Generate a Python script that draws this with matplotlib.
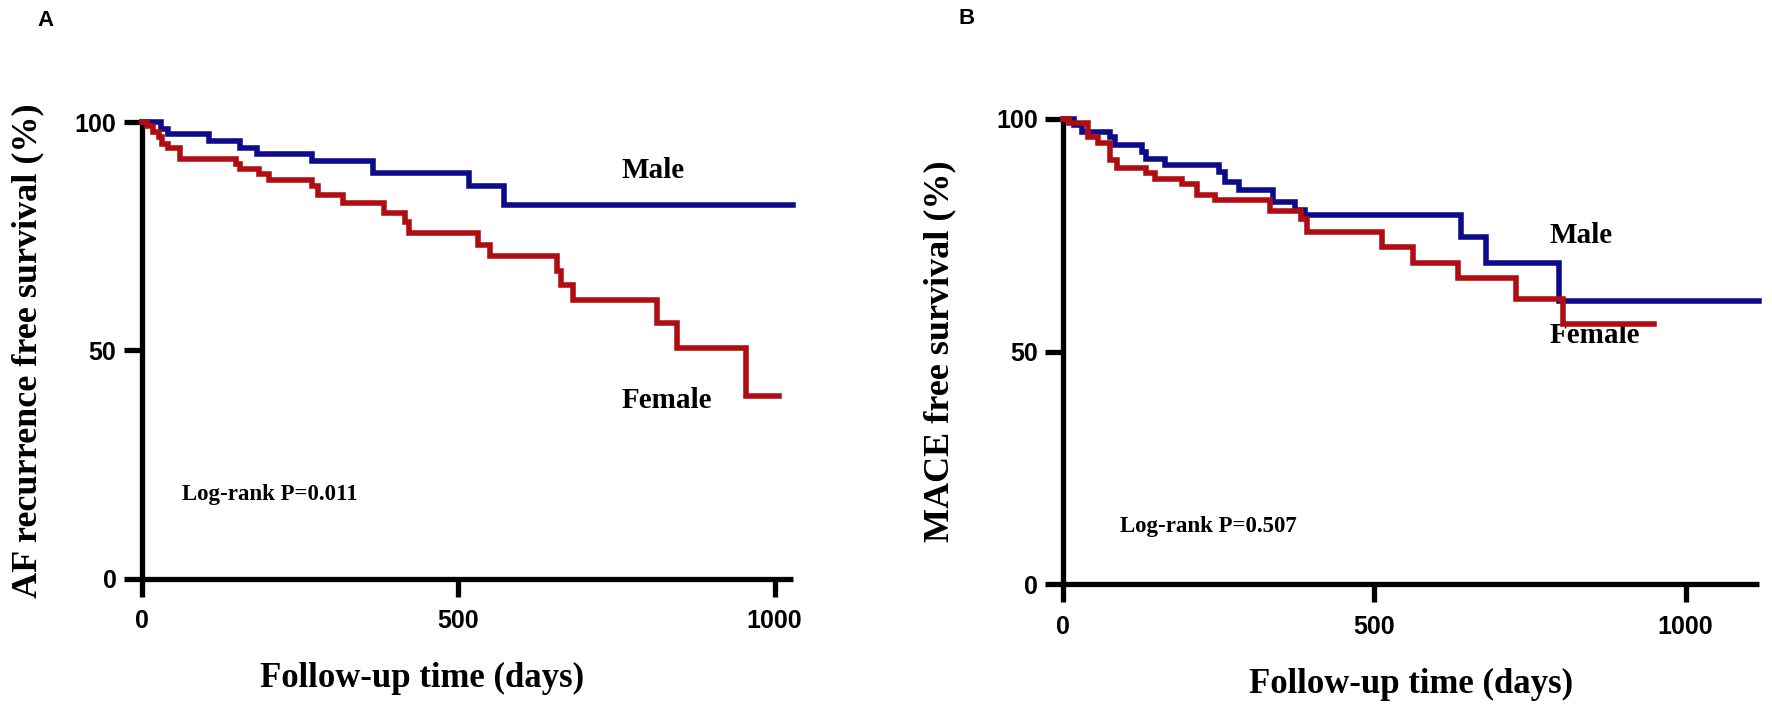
import numpy as np
import matplotlib
matplotlib.use("Agg")
import matplotlib.pyplot as plt

# ---- data (days, % event free) ----
a_xmax = 1030
a_male_days = [0, 31, 42, 106, 155, 182, 270, 365, 517, 572, 1030]
a_male_surv = [100, 98.5, 97.4, 95.9, 94.4, 93.0, 91.5, 88.9, 85.9, 81.9, 81.9]

a_female_days = [0, 8, 18, 27, 33, 42, 61, 149, 155, 186, 201, 270, 279, 319,
                 383, 417, 423, 532, 550, 657, 663, 681, 815, 846, 955, 1007]
a_female_surv = [100, 99.2, 97.8, 96.7, 95.2, 94.4, 91.9, 90.7, 89.6, 88.5, 87.4,
                 85.9, 84.1, 82.2, 80.0, 78.1, 75.6, 73.0, 70.7, 67.4, 64.4, 61.1,
                 55.9, 50.4, 40.0, 40.0]

b_xmax = 1118
b_male_days = [0, 17, 30, 76, 83, 127, 134, 164, 251, 261, 282, 338, 372, 389,
               640, 680, 797, 1118]
b_male_surv = [100, 98.8, 97.3, 96.2, 94.4, 93.0, 91.5, 90.1, 88.7, 86.5, 84.7,
               82.2, 80.5, 79.3, 74.6, 69.1, 60.8, 60.8]

b_female_days = [0, 10, 40, 57, 76, 87, 134, 148, 191, 215, 244, 332, 382, 392,
                 513, 563, 634, 727, 803, 950]
b_female_surv = [100, 99.1, 96.2, 94.8, 91.2, 89.4, 88.3, 87.2, 86.1, 83.6, 82.5,
                 80.3, 78.5, 75.6, 72.4, 69.1, 65.9, 61.2, 56.0, 56.0]

x_ticks = [0, 500, 1000]
y_ticks = [0, 50, 100]

BLUE = "#0c0c8a"
RED = "#b00d12"
SERIF = ["Liberation Serif", "DejaVu Serif"]
SANS = ["Liberation Sans", "DejaVu Sans"]

W, H = 1772, 711
fig = plt.figure(figsize=(W / 100, H / 100), dpi=100)


def panel(rect, xmax, male, female, ylabel, logrank, male_xy, female_xy, lr_xy,
          xlab_x=0.5, ylab_pad=18):
    l, b, r, t = rect
    ax = fig.add_axes([l / W, 1 - b / H, (r - l) / W, (b - t) / H])
    ax.step(male[0], male[1], where="post", color=BLUE, lw=4,
            solid_joinstyle="miter", clip_on=False, zorder=3)
    ax.step(female[0], female[1], where="post", color=RED, lw=4,
            solid_joinstyle="miter", clip_on=False, zorder=4)
    ax.set_xlim(0, xmax)
    ax.set_ylim(0, 100)
    for s in ["top", "right"]:
        ax.spines[s].set_visible(False)
    for s in ["left", "bottom"]:
        ax.spines[s].set_linewidth(3.8)
        ax.spines[s].set_capstyle("butt")
    ax.set_xticks(x_ticks)
    ax.set_yticks(y_ticks)
    ax.tick_params(length=13, width=3.8, direction="out")
    ax.tick_params(axis="x", pad=9)
    ax.tick_params(axis="y", pad=5)
    for lab in ax.get_xticklabels() + ax.get_yticklabels():
        lab.set_fontfamily(SANS)
        lab.set_fontweight("bold")
        lab.set_fontsize(18)
    ax.set_xlabel("Follow-up time (days)", family=SERIF, weight="bold",
                  fontsize=25, labelpad=21)
    ax.xaxis.label.set_x(xlab_x)
    ax.set_ylabel(ylabel, family=SERIF, weight="bold", fontsize=26,
                  labelpad=ylab_pad)
    ax.text(*male_xy, "Male", family=SERIF, weight="bold", fontsize=21,
            ha="left", va="center")
    ax.text(*female_xy, "Female", family=SERIF, weight="bold", fontsize=21,
            ha="left", va="center")
    ax.text(*lr_xy, logrank, family=SERIF, weight="bold", fontsize=16.5,
            ha="left", va="center")
    return ax


# panel A: axis box in pixels (left, bottom, right, top)
panel((141.5, 578.5, 793.5, 122), a_xmax,
      (a_male_days, a_male_surv), (a_female_days, a_female_surv),
      "AF recurrence free survival (%)", "Log-rank P=0.011",
      (758, 89.3), (758, 39.0), (64, 18.5), xlab_x=0.43, ylab_pad=22)

# panel B
panel((1063, 584, 1759, 119), b_xmax,
      (b_male_days, b_male_surv), (b_female_days, b_female_surv),
      "MACE free survival (%)", "Log-rank P=0.507",
      (782, 75.0), (782, 53.5), (91, 12.4), ylab_pad=29)

fig.text(45 / W, 1 - 21 / H, "A", family=SANS, weight="bold", fontsize=16,
         ha="center", va="center")
fig.text(967 / W, 1 - 18 / H, "B", family=SANS, weight="bold", fontsize=16,
         ha="center", va="center")

fig.savefig("out.png", dpi=100)
